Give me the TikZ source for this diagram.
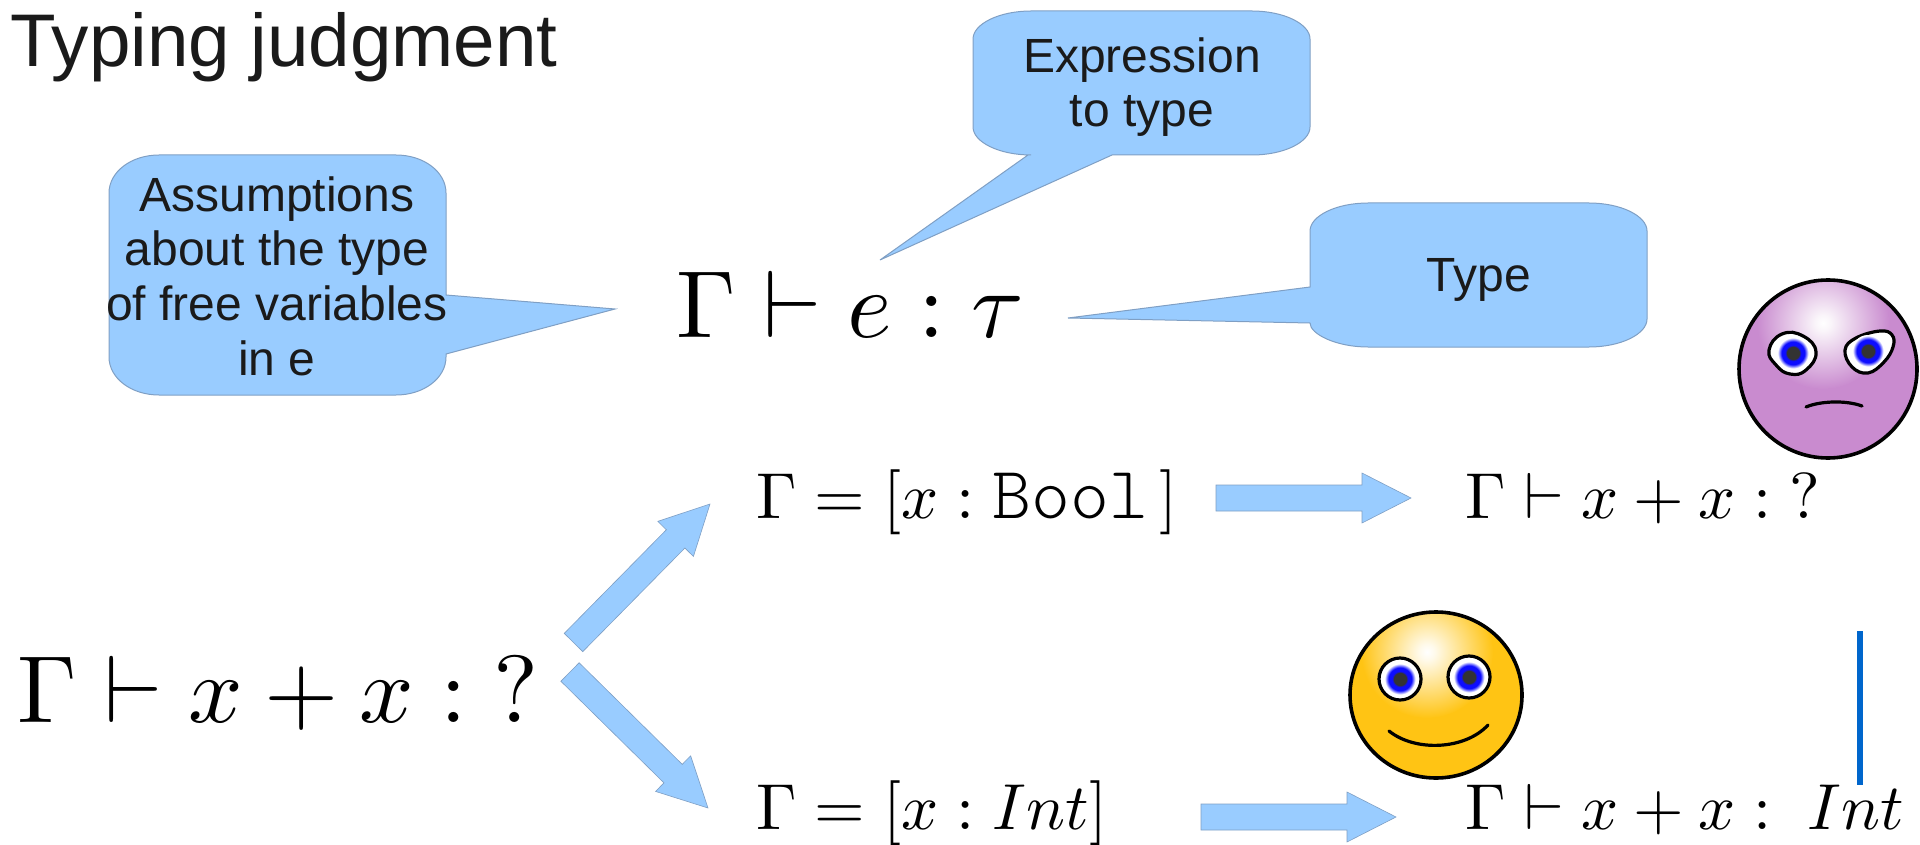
\documentclass[tikz,border=0pt]{standalone}
\usepackage{fontspec}
\setmainfont{Liberation Sans}
\usetikzlibrary{calc}
\newfontfamily\ttlight{Latin Modern Mono Light}
\definecolor{callfill}{HTML}{99CCFF}
\definecolor{callline}{HTML}{7F9FC4}
\definecolor{inkc}{HTML}{1A1A1A}
\definecolor{lilac}{HTML}{C98BCF}
\definecolor{sun}{HTML}{FFC414}
\definecolor{barblue}{HTML}{0066CC}
\definecolor{irisdark}{rgb}{0.2,0.2,0.2}
\definecolor{irismid}{rgb}{0.1,0.1,0.45}
\definecolor{irisblue}{rgb}{0.05,0.05,1}
\definecolor{eyewhite}{rgb}{1,1,1}
\definecolor{lilachi}{rgb}{0.98,0.96,0.98}
\definecolor{sunhi}{rgb}{1,0.98,0.92}
\pgfdeclareradialshading{lilacglow}{\pgfpoint{0bp}{0bp}}{color(0bp)=(eyewhite); color(3bp)=(lilachi); color(25bp)=(lilac); color(50bp)=(lilac)}
\pgfdeclareradialshading{sunglow}{\pgfpoint{0bp}{0bp}}{color(0bp)=(eyewhite); color(3bp)=(sunhi); color(25bp)=(sun); color(50bp)=(sun)}
\pgfdeclareradialshading{irisshade}{\pgfpoint{0bp}{0bp}}{color(0bp)=(irisdark); color(10bp)=(irisdark); color(12bp)=(irisblue); color(18bp)=(irisblue); color(24bp)=(eyewhite); color(50bp)=(eyewhite)}
\tikzset{
  x=0.5pt,y=-0.5pt,
  callout/.style={fill=callfill,draw=callline,line width=0.5pt},
  calltext/.style={align=center,text=inkc,inner sep=0pt,font=\fontsize{24}{27.3}\selectfont},
  titletext/.style={anchor=base west,text=inkc,inner sep=0pt,font=\fontsize{37.3}{40}\selectfont},
  bigmath/.style={anchor=base west,inner sep=0pt,scale=4.77},
  midmath/.style={anchor=base west,inner sep=0pt,scale=3.25},
  fatarrow/.style={fill=callfill,draw=callline,line width=0.3pt,line join=miter},
  faceline/.style={draw=black,line width=1.8pt},
  eyeline/.style={draw=black,line width=1.6pt,fill=white},
  mouthline/.style={draw=black,line width=1.6pt,line cap=round},
}
\newcommand{\fatarr}[2]{% tail coordinate, tip coordinate
  \path[fatarrow]
   ($(#1)!6.5pt!90:(#2)$) --
   ($($(#2)!24.5pt!(#1)$)!6.5pt!90:(#2)$) --
   ($($(#2)!24.5pt!(#1)$)!12.5pt!90:(#2)$) --
   (#2) --
   ($($(#2)!24.5pt!(#1)$)!12.5pt!-90:(#2)$) --
   ($($(#2)!24.5pt!(#1)$)!6.5pt!-90:(#2)$) --
   ($(#1)!6.5pt!-90:(#2)$) -- cycle;}
\newcommand{\iris}[2]{\path[shading=irisshade] (#1,#2) circle[radius=8pt];}
\begin{document}
\begin{tikzpicture}
\useasboundingbox (0,0) rectangle (1920,845);

% title
\node[titletext] (title) at (10,67) {Typing judgment};

% callouts
\path[callout] (159,155) -- (396,155) .. controls (424,155) and (446,172) .. (446,193) -- (446,295) -- (615,309) -- (446,354) -- (446,357) .. controls (446,378) and (424,395) .. (396,395) -- (159,395) .. controls (131,395) and (109,378) .. (109,357) -- (109,193) .. controls (109,172) and (131,155) .. (159,155) -- cycle;
\node[calltext] (assume) at (277,276) {Assumptions\\about the type\\of free variables\\in e};

\path[callout] (1031,11) -- (1252,11) .. controls (1284,11) and (1310,24) .. (1310,39) -- (1310,127) .. controls (1310,142) and (1284,155) .. (1252,155) -- (1112,155) -- (880,260) -- (1028,155) -- (1031,155) .. controls (999,155) and (973,142) .. (973,127) -- (973,39) .. controls (973,24) and (999,11) .. (1031,11) -- cycle;
\node[calltext] (expr) at (1142,87) {Expression\\to type};

\path[callout] (1368,203) -- (1589,203) .. controls (1621,203) and (1647,216) .. (1647,231) -- (1647,319) .. controls (1647,334) and (1621,347) .. (1589,347) -- (1368,347) .. controls (1336,347) and (1310,334) .. (1310,323) -- (1068,318) -- (1310,287) -- (1310,231) .. controls (1310,216) and (1336,203) .. (1368,203) -- cycle;
\node[calltext] (typ) at (1479,280) {Type};

% math
\node[bigmath] (judg) at (675,337) {$\Gamma\vdash e:\tau$};
\node[bigmath] (big) at (16,722) {$\Gamma\vdash x+x:{?}$};
\node[midmath] (gbool) at (755,518) {$\Gamma=[x:\hbox{\ttlight\fontsize{11.4}{12}\selectfont Bool}\,]$};
\node[midmath] (q1) at (1464,518) {$\Gamma\vdash x+x:{?}$};
\node[midmath] (gint) at (755,829) {$\Gamma=[x:Int]$};
\node[midmath] (q2) at (1464,829) {$\Gamma\vdash x+x:\ Int$};

% arrows
\coordinate (upT) at (573.5,642.5);
\coordinate (upH) at (710,504);
\coordinate (dnT) at (570,672);
\coordinate (dnH) at (708,808);
\coordinate (r1T) at (1216,498);
\coordinate (r1H) at (1411,498);
\coordinate (r2T) at (1201,817);
\coordinate (r2H) at (1396,817);
\fatarr{upT}{upH}
\fatarr{dnT}{dnH}
\fatarr{r1T}{r1H}
\fatarr{r2T}{r2H}

% blue bar
\coordinate (barT) at (1860,631);
\coordinate (barB) at (1860,785);
\draw[barblue,line width=3pt] (barT) -- (barB);

% unhappy face
\fill[lilac] (1828,369) circle[radius=44.5pt];
\begin{scope}
\clip (1828,369) circle[radius=44.5pt];
\path[shading=lilacglow] (1823,323) circle[radius=33pt];
\end{scope}
\path[faceline] (1828,369) circle[radius=44.5pt];
\draw[eyeline] plot[smooth cycle,tension=0.8] coordinates {(1769,350) (1782,334) (1803,336) (1816,352) (1806,370) (1790,374) (1776,365)};
\iris{1793}{353}
\draw[eyeline] plot[smooth cycle,tension=0.7] coordinates {(1845,350) (1856,338) (1880,331) (1892,335) (1893,347) (1884,362) (1868,373) (1852,367)};
\iris{1868}{351}
\draw[mouthline] (1806,407) .. controls (1820,401) and (1846,400) .. (1862,406);

% happy face
\fill[sun] (1436,695) ellipse[x radius=43pt,y radius=41.5pt];
\begin{scope}
\clip (1436,695) ellipse[x radius=43pt,y radius=41.5pt];
\path[shading=sunglow] (1427,652) circle[radius=33pt];
\end{scope}
\path[faceline] (1436,695) ellipse[x radius=43pt,y radius=41.5pt];
\draw[eyeline] (1400,679) circle[radius=10.5pt];
\iris{1400}{679}
\draw[eyeline] (1469,677) circle[radius=10.5pt];
\iris{1469}{677}
\draw[mouthline] (1389,731) .. controls (1415,752) and (1465,750) .. (1488,725);
\end{tikzpicture}
\end{document}
